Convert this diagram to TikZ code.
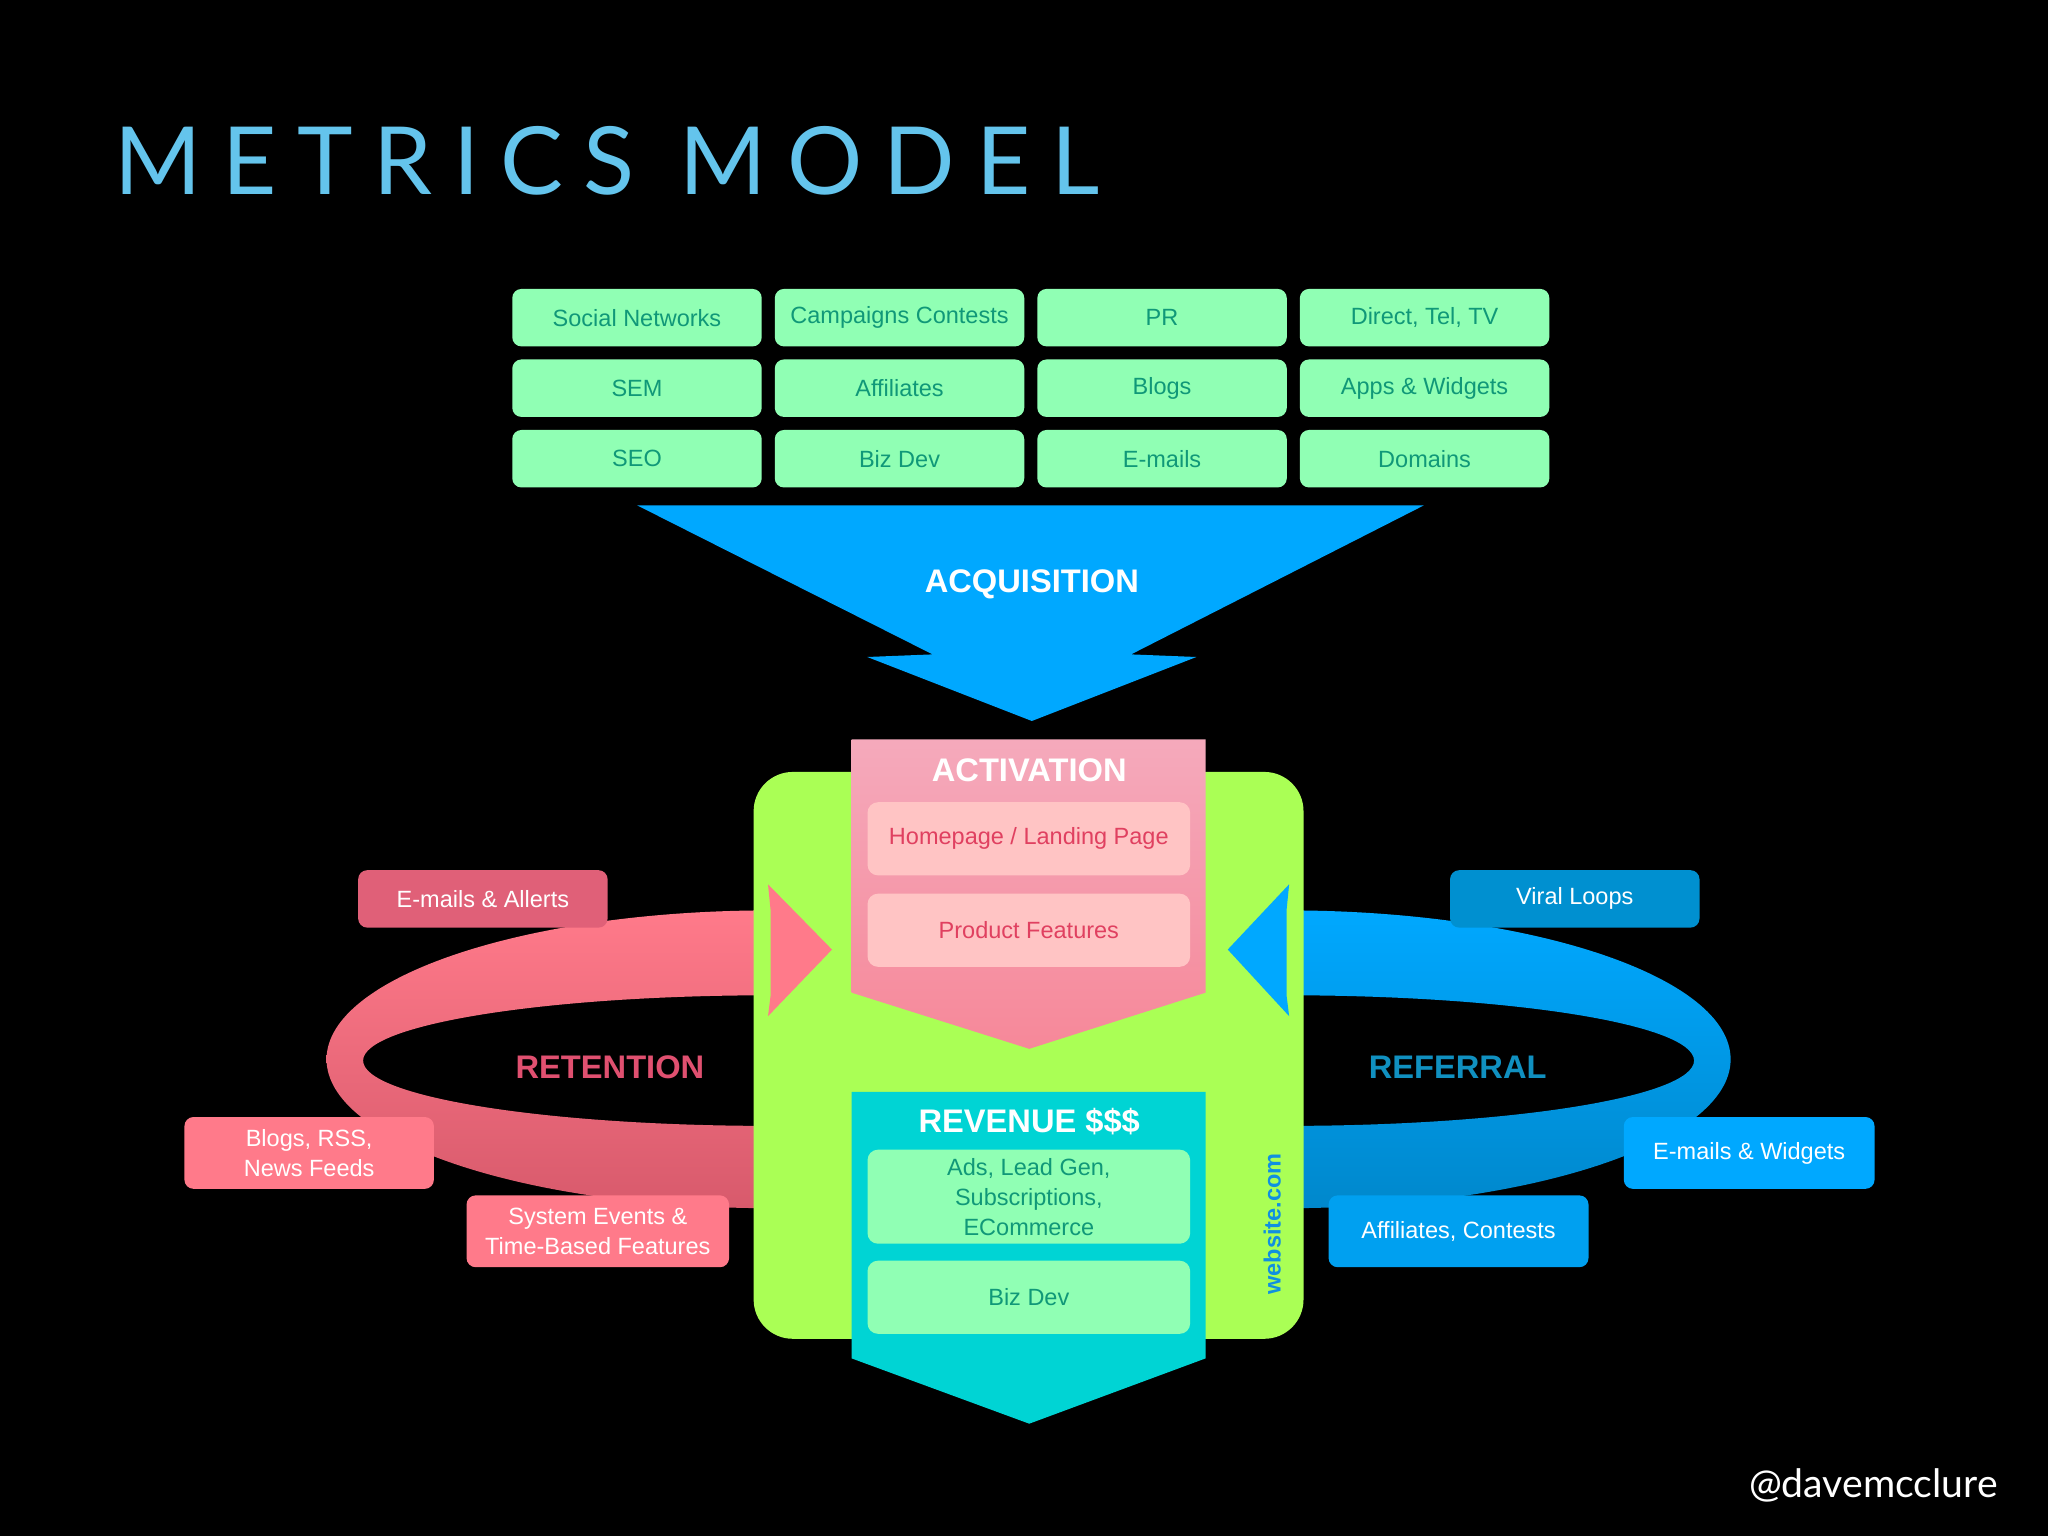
\documentclass[tikz,border=0pt]{standalone}
\usepackage{fontspec}
\setmainfont{Liberation Sans}
\newfontfamily\titlefont{Lato}[LetterSpace=22]
\newfontfamily\handfont{Lato}
\usetikzlibrary{shapes.geometric}
\definecolor{tgreen}{HTML}{90FFB4}
\definecolor{ttext}{HTML}{109878}
\definecolor{acq}{HTML}{00A8FF}
\definecolor{lime}{HTML}{AAFF55}
\definecolor{pinkA}{HTML}{F4A0B4}
\definecolor{pinkbox}{HTML}{FFC4C4}
\definecolor{pinktxt}{HTML}{E04060}
\definecolor{rev}{HTML}{00D4D4}
\definecolor{retA}{HTML}{FF7A8A}
\definecolor{retB}{HTML}{D85A6C}
\definecolor{refA}{HTML}{00A8FF}
\definecolor{refB}{HTML}{0088CC}
\begin{document}
\begin{tikzpicture}[x=1pt,y=-1pt,
  tb/.style={draw=none,fill=tgreen,rounded corners=7pt,minimum width=191pt,minimum height=44pt,text=ttext,font=\fontsize{18}{20}\selectfont,anchor=north west},
  ib/.style={draw=none,rounded corners=8pt,minimum width=247pt,anchor=north west,align=center,font=\fontsize{18}{23}\selectfont},
  sb/.style={draw=none,rounded corners=7pt,anchor=north west,align=center,text=white,font=\fontsize{18}{23}\selectfont},
  hd/.style={text=white,font=\bfseries\fontsize{25}{28}\selectfont}]
\fill[black] (0,0) rectangle (1568,1176);
\useasboundingbox (0,0) rectangle (1568,1176);
\node[anchor=west,text={rgb,255:red,100;green,196;blue,236},font=\titlefont\fontsize{72}{72}\selectfont] (title) at (84,123) {METRICS MODEL};
% grid
\foreach \t [count=\i from 0] in {Social Networks,Campaigns Contests,PR,{Direct, Tel, TV}}
  \node[tb] (r1c\i) at (392+\i*201,221) {\t};
\foreach \t [count=\i from 0] in {SEM,Affiliates,Blogs,Apps \& Widgets}
  \node[tb] (r2c\i) at (392+\i*201,275) {\t};
\foreach \t [count=\i from 0] in {SEO,Biz Dev,E-mails,Domains}
  \node[tb] (r3c\i) at (392+\i*201,329) {\t};
% acquisition funnel
\fill[acq] (488,387) -- (1090,387) -- (866,501) -- (916,503) -- (790,552) -- (664,503) -- (714,501) -- cycle;
\node[hd] (acqL) at (790,447) {ACQUISITION};
% retention band
\begin{scope}
\clip (0,0) rectangle (590,1176);
\shade[top color=retA,bottom color=retB,even odd rule] (590,811) ellipse[x radius=340,y radius=114] (590,812) ellipse[x radius=312,y radius=50];
\end{scope}
\begin{scope}
\clip (985,0) rectangle (1568,1176);
\shade[top color=refA,bottom color=refB,even odd rule] (985,811) ellipse[x radius=340,y radius=114] (985,812) ellipse[x radius=312,y radius=50];
\end{scope}
% green body
\fill[lime,rounded corners=30pt] (577,591) rectangle (998,1025);
% arrowheads
\fill[retA] (588,677) -- (637,727) -- (588,778) -- (590,762) -- (590,697) -- cycle;
\fill[refA] (987,677) -- (940,727) -- (987,778) -- (985,762) -- (985,697) -- cycle;
% activation
\shade[top color=pinkA!90!white,bottom color=pinkA!85!red] (652,566) -- (923,566) -- (923,760) -- (788,803) -- (652,760) -- cycle;
\node[hd] (actL) at (788,590) {ACTIVATION};
\node[ib,fill=pinkbox,text=pinktxt,minimum height=56pt] (home) at (664,614) {Homepage / Landing Page};
\node[ib,fill=pinkbox,text=pinktxt,minimum height=56pt] (prod) at (664,684) {Product Features};
% revenue
\fill[rev] (652,836) -- (923,836) -- (923,1040) -- (788,1090) -- (652,1040) -- cycle;
\node[hd] (revL) at (788,859) {REVENUE \$\$\$};
\node[ib,fill=tgreen,text=ttext,minimum height=72pt] (ads) at (664,880) {Ads, Lead Gen,\\Subscriptions,\\ECommerce};
\node[ib,fill=tgreen,text=ttext,minimum height=56pt] (bizdev) at (664,965) {Biz Dev};
\node[rotate=90,text={rgb,255:red,16;green,144;blue,224},font=\bfseries\fontsize{18}{20}\selectfont] (web) at (974,937) {website.com};
% labels
\node[text={rgb,255:red,224;green,80;blue,112},font=\bfseries\fontsize{25}{28}\selectfont] (retL) at (467,817) {RETENTION};
\node[text={rgb,255:red,16;green,144;blue,192},font=\bfseries\fontsize{25}{28}\selectfont] (refL) at (1116,817) {REFERRAL};
% side boxes
\node[sb,fill={rgb,255:red,224;green,96;blue,120},minimum width=191pt,minimum height=44pt] (em) at (274,666) {E-mails \& Allerts};
\node[sb,fill=retA,minimum width=191pt,minimum height=55pt] (blogs) at (141,855) {Blogs, RSS,\\News Feeds};
\node[sb,fill=retA,minimum width=201pt,minimum height=55pt] (sys) at (357,915) {System Events \&\\Time-Based Features};
\node[sb,fill={rgb,255:red,0;green,144;blue,208},minimum width=191pt,minimum height=44pt] (viral) at (1110,666) {Viral Loops};
\node[sb,fill=refA,minimum width=192pt,minimum height=55pt] (ew) at (1243,855) {E-mails \& Widgets};
\node[sb,fill={rgb,255:red,0;green,160;blue,240},minimum width=199pt,minimum height=55pt] (aff) at (1017,915) {Affiliates, Contests};
\node[anchor=east,text=white,font=\handfont\fontsize{30}{32}\selectfont] (handle) at (1533,1137) {@davemcclure};
\end{tikzpicture}
\end{document}
